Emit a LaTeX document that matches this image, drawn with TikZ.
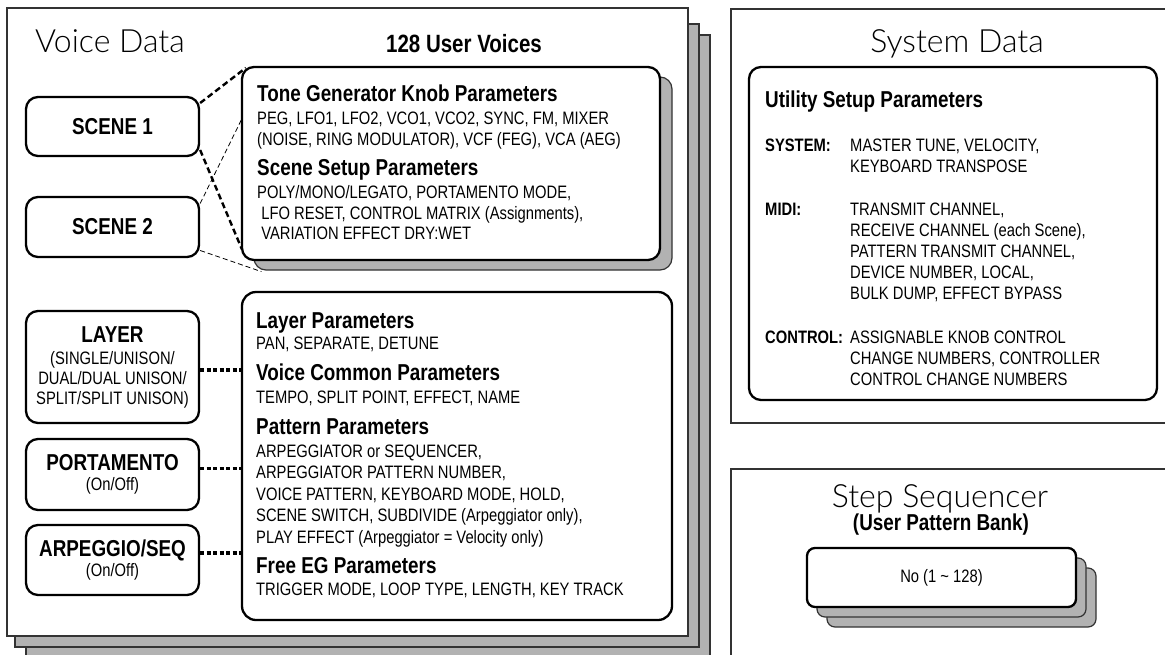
\documentclass[tikz,border=0pt]{standalone}
\usepackage{fontspec}
\setmainfont{Liberation Sans}[FakeStretch=0.82]
\newfontfamily\titlefont{Lato}[UprightFont={* Light}]
\usetikzlibrary{calc}

\newcommand{\hdfont}{\fontsize{23}{26}\selectfont\bfseries}
\newcommand{\txfont}{\fontsize{18}{20}\selectfont}

\begin{document}
\begin{tikzpicture}[x=1pt,y=-1pt]
    \tikzstyle{panel}=[draw=black!80,line width=1.2pt,fill=white]
    \tikzstyle{sheet}=[draw=black!80,line width=1.2pt,fill=black!30]
    \tikzstyle{card}=[draw=black,line width=2.3pt,rounded corners=12pt,fill=white]
    \tikzstyle{cardshade}=[draw=black!80,line width=1.2pt,rounded corners=12pt,fill=black!30]
    \tikzstyle{sidebox}=[card,minimum width=173pt,align=center,font=\txfont,inner sep=0pt]
    \tikzstyle{title}=[anchor=base west,inner sep=0pt,font=\titlefont\fontsize{32}{36}\selectfont]
    \tikzstyle{head}=[anchor=base west,inner sep=0pt,font=\hdfont]
    \tikzstyle{txt}=[anchor=base west,inner sep=0pt,font=\txfont]
    \tikzstyle{key}=[txt,font=\txfont\bfseries]
    \tikzstyle{scenelink}=[line width=2.4pt,dash pattern=on 6pt off 3.5pt]
    \tikzstyle{scenelinkthin}=[line width=0.8pt,dash pattern=on 5pt off 3pt]
    \tikzstyle{layerlink}=[line width=3.6pt,dash pattern=on 4pt off 2.5pt]

    \clip (0,0) rectangle (1165,654);

    % panels
    \draw[sheet] (26,35) rectangle (710,658);
    \draw[sheet] (15,24) rectangle (699,647);
    \draw[panel] (7,8) rectangle (688,636);
    \draw[panel] (731,9) rectangle (1180,423);
    \draw[panel] (731,469) rectangle (1180,670);

    \node[title] (voicettl) at (35,52) {Voice Data};
    \node[anchor=base,inner sep=0pt,font=\hdfont\fontsize{25}{28}\selectfont] (userttl) at (464,52) {128 User Voices};
    \node[title,anchor=base] (systtl) at (957,52) {System Data};
    \node[title,anchor=base] (stepttl) at (940,507) {Step Sequencer};
    \node[head,anchor=base] (bankttl) at (941,530) {(User Pattern Bank)};

    % scenes
    \node[sidebox,minimum height=59pt,font=\hdfont] (scene1) at (112.5,126.5) {SCENE 1};
    \node[sidebox,minimum height=60pt,font=\hdfont] (scene2) at (112.5,227) {SCENE 2};

    \node[cardshade,minimum width=418pt,minimum height=193pt] (toneshade) at (463,173.5) {};
    \node[card,minimum width=418pt,minimum height=193pt] (tone) at (451,163.5) {};

    \draw[scenelink] (scene1.15) -- ($(tone.north west)+(5,2)$);
    \draw[scenelink] (scene1.-15) -- ($(tone.south west)+(1,-12)$);
    \draw[scenelinkthin] (scene2.15) -- ($(tone.north west)+(1,53)$);
    \draw[scenelinkthin] (scene2.-15) -- ($(toneshade.south west)+(8,1)$);

    \node[head] (tonehd) at (257,101.5) {Tone Generator Knob Parameters};
    \foreach \ln [count=\i] in {{PEG, LFO1, LFO2, VCO1, VCO2, SYNC, FM, MIXER},{(NOISE, RING MODULATOR), VCF (FEG), VCA (AEG)}}
        \node[txt] (tonetx\i) at (257,{124.5+20.5*(\i-1)}) {\ln};
    \node[head] (scenehd) at (257,175) {Scene Setup Parameters};
    \foreach \ln [count=\i] in {{POLY/MONO/LEGATO, PORTAMENTO MODE,},{\ LFO RESET, CONTROL MATRIX (Assignments),},{\ VARIATION EFFECT DRY:WET}}
        \node[txt] (scenetx\i) at (257,{198.5+20.5*(\i-1)}) {\ln};

    % layer, portamento, arpeggio
    \node[card,rounded corners=14pt,minimum width=430pt,minimum height=328pt] (params) at (457,456) {};
    \node[sidebox,minimum height=112pt] (layer) at (112.5,367) {{\hdfont LAYER}\\[2pt](SINGLE/UNISON/\\DUAL/DUAL UNISON/\\SPLIT/SPLIT UNISON)};
    \node[sidebox,minimum height=71pt] (porta) at (112.5,474.5) {{\hdfont PORTAMENTO}\\(On/Off)};
    \node[sidebox,minimum height=70pt] (arpseq) at (112.5,560) {{\hdfont ARPEGGIO/SEQ}\\(On/Off)};

    \draw[layerlink] ([yshift=-3pt]layer.east) -- ([yshift=-3pt]layer.east -| params.west);
    \draw[layerlink] ([yshift=6pt]porta.east) -- ([yshift=6pt]porta.east -| params.west);
    \draw[layerlink] ([yshift=7pt]arpseq.east) -- ([yshift=7pt]arpseq.east -| params.west);

    \node[head] (layerhd) at (256,328) {Layer Parameters};
    \node[txt] (layertx) at (256,349) {PAN, SEPARATE, DETUNE};
    \node[head] (commonhd) at (256,380) {Voice Common Parameters};
    \node[txt] (commontx) at (256,403) {TEMPO, SPLIT POINT, EFFECT, NAME};
    \node[head] (patternhd) at (256,434) {Pattern Parameters};
    \foreach \ln [count=\i] in {{ARPEGGIATOR or SEQUENCER,},{ARPEGGIATOR PATTERN NUMBER,},{VOICE PATTERN, KEYBOARD MODE, HOLD,},{SCENE SWITCH, SUBDIVIDE (Arpeggiator only),},{PLAY EFFECT (Arpeggiator = Velocity only)}}
        \node[txt] (patterntx\i) at (256,{457+21.5*(\i-1)}) {\ln};
    \node[head] (freeeghd) at (256,573) {Free EG Parameters};
    \node[txt] (freeegtx) at (256,595) {TRIGGER MODE, LOOP TYPE, LENGTH, KEY TRACK};

    % system data
    \node[card,minimum width=408pt,minimum height=333pt] (utility) at (953,233.5) {};
    \node[head] (utilityhd) at (765,107) {Utility Setup Parameters};
    \node[key] (syskey) at (765,151.5) {SYSTEM:};
    \foreach \ln [count=\i] in {{MASTER TUNE, VELOCITY,},{KEYBOARD TRANSPOSE}}
        \node[txt] (systx\i) at (850,{151.5+20.5*(\i-1)}) {\ln};
    \node[key] (midikey) at (765,215.5) {MIDI:};
    \foreach \ln [count=\i] in {{TRANSMIT CHANNEL,},{RECEIVE CHANNEL (each Scene),},{PATTERN TRANSMIT CHANNEL,},{DEVICE NUMBER, LOCAL,},{BULK DUMP, EFFECT BYPASS}}
        \node[txt] (miditx\i) at (850,{215.5+20.9*(\i-1)}) {\ln};
    \node[key] (ctrlkey) at (765,343.5) {CONTROL:};
    \foreach \ln [count=\i] in {{ASSIGNABLE KNOB CONTROL},{CHANGE NUMBERS, CONTROLLER},{CONTROL CHANGE NUMBERS}}
        \node[txt] (ctrltx\i) at (850,{343.5+21*(\i-1)}) {\ln};

    % step sequencer
    \node[cardshade,rounded corners=8pt,minimum width=269pt,minimum height=59pt] (bank3) at (961.5,597.5) {};
    \node[cardshade,rounded corners=8pt,minimum width=269pt,minimum height=59pt] (bank2) at (951.5,587.5) {};
    \node[card,rounded corners=8pt,minimum width=269pt,minimum height=59pt,font=\txfont] (bank1) at (941.5,577.5) {No (1 \textasciitilde{} 128)};
\end{tikzpicture}
\end{document}
